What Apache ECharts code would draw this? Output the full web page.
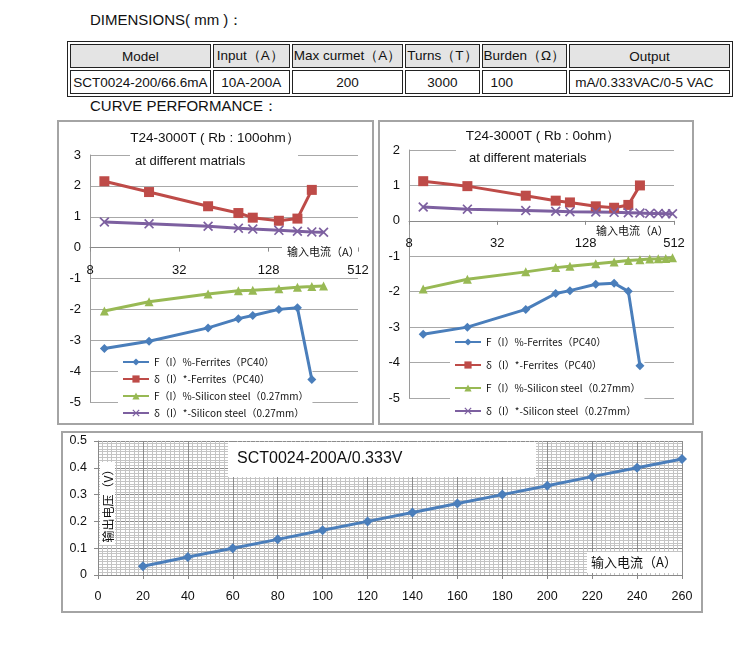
<!DOCTYPE html>
<html>
<head>
<meta charset="utf-8">
<script src="https://cdn.jsdelivr.net/npm/echarts@6/dist/echarts.min.js"></script>
<style>
  html,body{margin:0;padding:0;background:#fff;width:733px;height:665px;overflow:hidden;}
  .h{position:absolute;font-family:'Liberation Sans',Arial,sans-serif;font-size:15px;color:#111;line-height:18px;}
  table.spec{position:absolute;left:67px;top:41px;border-collapse:separate;border-spacing:2px;border:1px solid #222;table-layout:fixed;font-family:'Liberation Sans',Arial,sans-serif;font-size:13.5px;color:#111;}
  table.spec td{border:1px solid #222;height:22px;padding:0 3px;white-space:nowrap;overflow:hidden;}
  table.spec tr.hd td{background:#e4e4e4;}
  .box{position:absolute;border:2px solid #a4a4a4;box-sizing:border-box;}
  #chart{position:absolute;left:0;top:0;width:733px;height:665px;}
</style>
</head>
<body>
<div class="h" style="left:90px;top:11px;">DIMENSIONS( mm )：</div>
<table class="spec">
  <tr class="hd">
    <td style="width:135px;text-align:center;">Model</td>
    <td style="width:71px;text-align:left;">Input（A）</td>
    <td style="width:100px;text-align:left;padding:0 1px;">Max curmet（A）</td>
    <td style="width:61px;text-align:left;padding:0 1px;">Turns（T）</td>
    <td style="width:71px;text-align:left;padding:0 1px;">Burden（Ω）</td>
    <td style="width:165px;text-align:center;">Output</td>
  </tr>
  <tr>
    <td style="text-align:center;padding:0 1px;">SCT0024-200/66.6mA</td>
    <td style="text-align:center;">10A-200A</td>
    <td style="text-align:center;">200</td>
    <td style="text-align:center;">3000</td>
    <td style="text-align:left;padding-left:8px;">100</td>
    <td style="text-align:left;padding-left:5px;">mA/0.333VAC/0-5 VAC</td>
  </tr>
</table>
<div class="h" style="left:90px;top:97px;">CURVE PERFORMANCE：</div>
<div class="box" style="left:57px;top:120px;width:317px;height:305px;"></div>
<div class="box" style="left:378px;top:120px;width:316px;height:305px;"></div>
<div class="box" style="left:61px;top:431px;width:642px;height:182px;"></div>
<div id="chart"></div>
<script>
// ---------- data ----------
const logTicks = [8, 32, 128, 512];
const seriesNames = ['F（I）%-Ferrites（PC40）', 'δ（I）*-Ferrites（PC40）', 'F（I）%-Silicon steel（0.27mm）', 'δ（I）*-Silicon steel（0.27mm）'];

// Left chart: Rb = 100 ohm
const leftX = [10, 20, 50, 80, 100, 150, 200, 250, 300];
const leftFerriteF = [-3.27, -3.03, -2.6, -2.3, -2.2, -2.0, -1.95, -4.27];
const leftFerriteD = [2.15, 1.80, 1.34, 1.12, 0.97, 0.87, 0.94, 1.87];
const leftSiliconF = [-2.05, -1.75, -1.5, -1.40, -1.38, -1.33, -1.28, -1.26, -1.24];
const leftSiliconD = [0.83, 0.77, 0.69, 0.63, 0.60, 0.56, 0.53, 0.51, 0.50];

// Right chart: Rb = 0 ohm
const rightX = [10, 20, 50, 80, 100, 150, 200, 250, 300, 350, 400, 450, 500];
const rightFerriteF = [-3.2, -3.0, -2.5, -2.05, -1.97, -1.79, -1.76, -1.99, -4.09];
const rightFerriteD = [1.12, 0.98, 0.71, 0.57, 0.52, 0.41, 0.37, 0.45, 1.0];
const rightSiliconF = [-1.92, -1.65, -1.44, -1.32, -1.28, -1.21, -1.16, -1.12, -1.10, -1.08, -1.07, -1.06, -1.04];
const rightSiliconD = [0.39, 0.33, 0.29, 0.27, 0.26, 0.25, 0.24, 0.23, 0.22, 0.21, 0.21, 0.20, 0.20];

// Bottom chart: output voltage vs input current
const outX = [20, 40, 60, 80, 100, 120, 140, 160, 180, 200, 220, 240, 260];
const outV = [0.033, 0.067, 0.1, 0.133, 0.167, 0.2, 0.233, 0.267, 0.3, 0.333, 0.367, 0.4, 0.433];

// ---------- styling ----------
const colors = ['#4A7EBB', '#BE4B48', '#98B954', '#7D60A0'];
const crossPath = 'path://M0,1.2L1.2,0L5,3.8L8.8,0L10,1.2L6.2,5L10,8.8L8.8,10L5,6.2L1.2,10L0,8.8L3.8,5Z';
const symbols = ['diamond', 'rect', 'triangle', crossPath];
const symbolSizes = [9, 10, 9, 10];
const numFont = "'Liberation Sans', Arial, sans-serif";
const cjkFont = "'Noto Sans CJK SC', sans-serif";

function pairs(xs, ys) { return ys.map((y, i) => [xs[i], y]); }

function lineSeries(idx, data, axisIdx) {
  return {
    name: seriesNames[idx], type: 'line', xAxisIndex: axisIdx, yAxisIndex: axisIdx,
    data: data, symbol: symbols[idx], symbolSize: symbolSizes[idx], showSymbol: true,
    lineStyle: { color: colors[idx], width: 3 },
    itemStyle: { color: colors[idx] }, z: 6, animation: false
  };
}

function logX(grid) {
  return {
    type: 'log', logBase: 2, gridIndex: grid, min: 8, max: 512, position: 'bottom', offset: 0,
    axisLine: { onZero: false, lineStyle: { color: '#8a8a8a', width: 1 } },
    axisTick: { show: true, length: 4, lineStyle: { color: '#8a8a8a' }, customValues: logTicks },
    axisLabel: { customValues: logTicks, fontFamily: numFont, fontSize: 13, color: '#111', margin: 16 },
    splitLine: { show: false }, minorTick: { show: false }
  };
}
function valY(grid, min, max) {
  return {
    type: 'value', gridIndex: grid, min: min, max: max, interval: 1,
    axisLine: { show: true, onZero: false, lineStyle: { color: '#9a9a9a' } },
    axisTick: { show: false },
    axisLabel: { fontFamily: numFont, fontSize: 13, color: '#111', margin: 9 },
    splitLine: { show: true, lineStyle: { color: '#a8a8a8', width: 1 } }
  };
}

function rect(x, y, w, h) {
  return { type: 'rect', shape: { x: x, y: y, width: w, height: h }, style: { fill: '#fff' }, z: 10, silent: true };
}
function txt(x, y, s, font, size, align, extra) {
  return Object.assign({ type: 'text', x: x, y: y, z: 11, silent: true,
    style: { text: s, fontFamily: font, fontSize: size, fill: '#111', align: align, verticalAlign: 'middle' } }, extra || {});
}

const grids = [
  { left: 90, top: 155, width: 268, height: 247 },
  { left: 409, top: 150, width: 265, height: 248 },
  { left: 98, top: 441, width: 584, height: 134 }
];

const option = {
  animation: false,
  grid: grids,
  xAxis: [
    logX(0), logX(1),
    {
      type: 'value', gridIndex: 2, min: 0, max: 260, interval: 20,
      axisLine: { lineStyle: { color: '#888' } },
      axisTick: { show: true, length: 4, lineStyle: { color: '#888' } },
      axisLabel: { fontFamily: numFont, fontSize: 12.5, color: '#111', margin: 15 },
      splitLine: { show: true, lineStyle: { color: '#8c8c8c', width: 1 } },
      minorTick: { show: false, splitNumber: 10 },
      minorSplitLine: { show: true, lineStyle: { color: '#c4c4c4', width: 1 } }
    }
  ],
  yAxis: [
    valY(0, -5, 3), valY(1, -5, 2),
    {
      type: 'value', gridIndex: 2, min: 0, max: 0.5, interval: 0.1,
      axisLine: { show: true, lineStyle: { color: '#888' } },
      axisTick: { show: true, length: 4, lineStyle: { color: '#888' } },
      axisLabel: { fontFamily: numFont, fontSize: 12.5, color: '#111', margin: 11 },
      splitLine: { show: true, lineStyle: { color: '#8c8c8c', width: 1 } },
      minorTick: { show: false, splitNumber: 10 },
      minorSplitLine: { show: true, lineStyle: { color: '#c4c4c4', width: 1 } }
    }
  ],
  legend: [
    {
      data: seriesNames, orient: 'vertical', left: 118, top: 355, itemGap: 7,
      itemWidth: 26, itemHeight: 9, backgroundColor: '#fff', padding: [2, 4, 2, 4],
      textStyle: { fontFamily: cjkFont, fontSize: 10, color: '#111' }, selectedMode: false
    },
    {
      data: seriesNames, orient: 'vertical', left: 450, top: 335, itemGap: 13,
      itemWidth: 26, itemHeight: 9, backgroundColor: '#fff', padding: [2, 4, 2, 4],
      textStyle: { fontFamily: cjkFont, fontSize: 10, color: '#111' }, selectedMode: false
    }
  ],
  series: [
    lineSeries(0, pairs(leftX, leftFerriteF), 0),
    lineSeries(1, pairs(leftX, leftFerriteD), 0),
    lineSeries(2, pairs(leftX, leftSiliconF), 0),
    lineSeries(3, pairs(leftX, leftSiliconD), 0),
    lineSeries(0, pairs(rightX, rightFerriteF), 1),
    lineSeries(1, pairs(rightX, rightFerriteD), 1),
    lineSeries(2, pairs(rightX, rightSiliconF), 1),
    lineSeries(3, pairs(rightX, rightSiliconD), 1),
    {
      name: 'SCT0024-200A/0.333V', type: 'line', xAxisIndex: 2, yAxisIndex: 2,
      data: pairs(outX, outV), symbol: 'diamond', symbolSize: 10,
      lineStyle: { color: '#4A7EBB', width: 3 }, itemStyle: { color: '#4A7EBB' }, z: 6
    }
  ],
  graphic: [
    // left chart labels
    txt(215, 138, 'T24-3000T ( Rb : 100ohm）', numFont, 13.5, 'center'),
    rect(130, 149, 168, 22),
    txt(135, 161, 'at different matrials', numFont, 13, 'left'),
    rect(282, 243, 76, 18),
    txt(287, 252, '输入电流（A）', cjkFont, 11, 'left'),
    // right chart labels
    txt(543, 136, 'T24-3000T ( Rb : 0ohm）', numFont, 13.5, 'center'),
    rect(456, 145, 173, 22),
    txt(469, 158, 'at different materials', numFont, 13, 'left'),
    rect(590, 224, 82, 13),
    txt(596, 231, '输入电流（A）', cjkFont, 11, 'left'),
    // bottom chart labels
    rect(228, 442, 308, 35),
    txt(237, 459, 'SCT0024-200A/0.333V', numFont, 16, 'left'),
    rect(100, 462, 15, 83),
    txt(108, 503, '输出电压（V）', cjkFont, 12, 'center', { rotation: Math.PI / 2 }),
    rect(587, 552, 95, 21),
    txt(634, 562, '输入电流（A）', cjkFont, 13, 'center')
  ]
};

const chart = echarts.init(document.getElementById('chart'), null, { renderer: 'canvas' });
chart.setOption(option);

// Place each log x-axis where the value axis crosses zero (as in the original Excel charts)
const zeroOffsets = [0, 1].map(function (g) {
  const y0 = chart.convertToPixel({ gridIndex: g }, [8, 0])[1];
  const bottom = grids[g].top + grids[g].height;
  return y0 - bottom;
});
chart.setOption({ xAxis: [{ offset: zeroOffsets[0] }, { offset: zeroOffsets[1] }] });
</script>
</body>
</html>
